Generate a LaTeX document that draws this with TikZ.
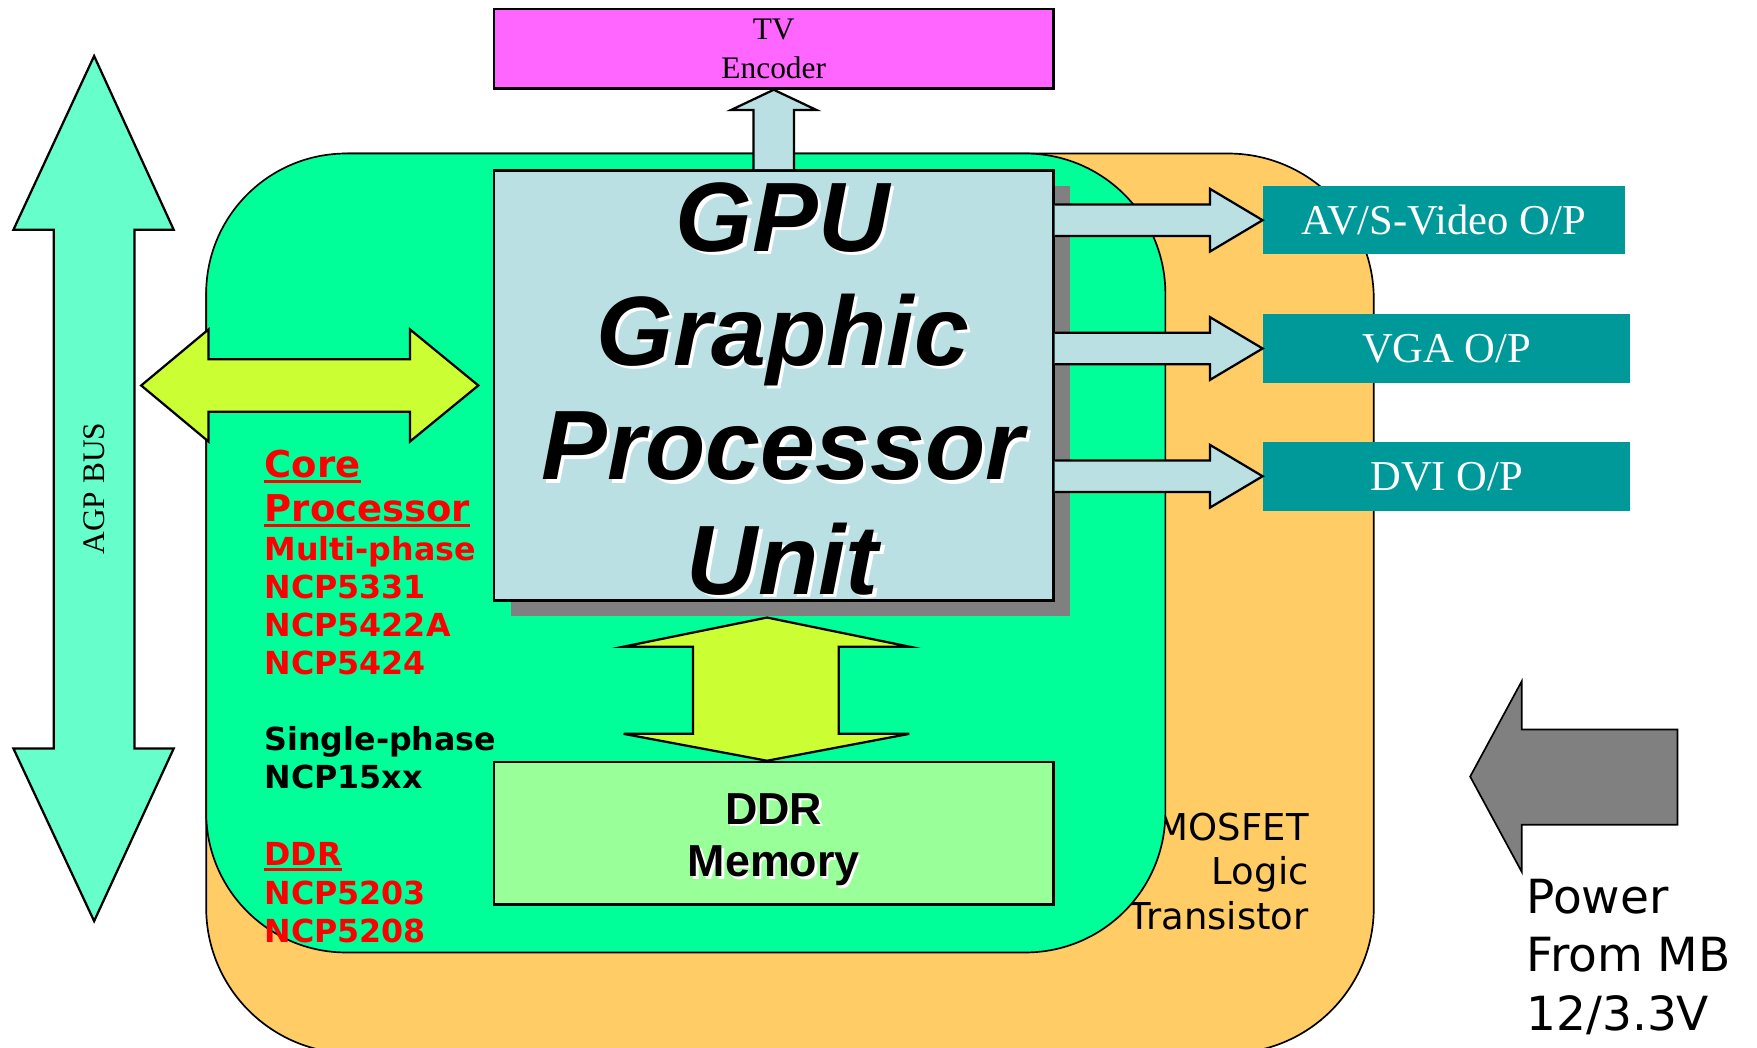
\documentclass[tikz,border=0pt]{standalone}
\usepackage{fontspec}
\setmainfont{Liberation Serif}
\newfontfamily\gpufont{Liberation Sans}
\newfontfamily\verdfont{DejaVu Sans}
\usepackage{xcolor}
\definecolor{boardorange}{HTML}{FFCC66}
\definecolor{coregreen}{HTML}{00FF99}
\definecolor{busgreen}{HTML}{66FFCC}
\definecolor{linkyellow}{HTML}{CCFF33}
\definecolor{gpublue}{HTML}{BBE0E3}
\definecolor{memgreen}{HTML}{99FF99}
\definecolor{tvpink}{HTML}{FF66FF}
\definecolor{outteal}{HTML}{009999}
\definecolor{shadowgray}{HTML}{808080}
\usetikzlibrary{calc,shadows}

\begin{document}
\begin{tikzpicture}[x=1pt, y=-1pt,
  blockarrow/.style={draw, line width=2pt, line join=miter},
  chipbox/.style={draw, line width=2.2pt, inner sep=0pt},
  outbox/.style={fill=outteal, text=white, inner sep=0pt, font=\fontsize{38}{44}\selectfont},
  partno/.style={anchor=base west, inner sep=0pt, font=\verdfont\bfseries\fontsize{28.3}{34}\selectfont}]

  \useasboundingbox (0,0) rectangle (1568,935);

  % Boards
  \draw[fill=boardorange, line width=1.5pt, rounded corners=130pt] (184,137) rectangle (1226,940);
  \node[anchor=north east, align=right, inner sep=0pt, font=\verdfont\fontsize{33}{40}\selectfont] (fet) at (1168,725) {MOSFET\\Logic\\Transistor};
  \draw[fill=coregreen, line width=1.5pt, rounded corners=125pt] (184,137) rectangle (1040,850);

  % AGP bus
  \coordinate (agptop) at (84,50);
  \coordinate (agpbot) at (84,822);
  \draw[blockarrow, fill=busgreen] (agptop) -- ($(agptop)+(71,155)$) -- ($(agptop)+(36,155)$) -- ($(agpbot)+(36,-154)$) -- ($(agpbot)+(71,-154)$) -- (agpbot) -- ($(agpbot)+(-72,-154)$) -- ($(agpbot)+(-36,-154)$) -- ($(agptop)+(-36,155)$) -- ($(agptop)+(-72,155)$) -- cycle;
  \node[rotate=90, font=\fontsize{28}{32}\selectfont] (agp) at ($(agptop)!0.5!(agpbot)$) {AGP BUS};

  % GPU
  \node[chipbox, fill=gpublue, minimum width=499pt, minimum height=384pt,
    drop shadow={shadow xshift=15pt, shadow yshift=-14pt, fill=shadowgray, opacity=1}] (gpu) at (690.5,344) {};
  \node[align=center, text=white, font=\gpufont\bfseries\itshape\fontsize{88}{102}\selectfont] (gputxtshade) at ($(gpu.center)+(11,6)$) {GPU\\Graphic\\Processor\\Unit};
  \node[align=center, font=\gpufont\bfseries\itshape\fontsize{88}{102}\selectfont] (gputxt) at ($(gpu.center)+(8,3)$) {GPU\\Graphic\\Processor\\Unit};

  % AGP link
  \coordinate (linkL) at ($(agptop |- gpu.west)+(42,0)$);
  \coordinate (linkR) at ($(gpu.west)+(-13,0)$);
  \draw[blockarrow, fill=linkyellow] (linkL) -- ($(linkL)+(60,-50)$) -- ($(linkL)+(60,-23.5)$) -- ($(linkR)+(-61,-23.5)$) -- ($(linkR)+(-61,-50)$) -- (linkR) -- ($(linkR)+(-61,50)$) -- ($(linkR)+(-61,23.5)$) -- ($(linkL)+(60,23.5)$) -- ($(linkL)+(60,50)$) -- cycle;

  % TV encoder
  \node[chipbox, fill=tvpink, minimum width=499pt, minimum height=71pt, align=center, font=\fontsize{28}{35}\selectfont] (tv) at (690.5,43.5) {TV\\Encoder};
  \draw[blockarrow, fill=gpublue] ($(gpu.north)+(-18,0)$) -- ($(tv.south)+(-18,18)$) -- ($(tv.south)+(-38,18)$) -- (tv.south) -- ($(tv.south)+(38,18)$) -- ($(tv.south)+(18,18)$) -- ($(gpu.north)+(18,0)$);

  % Outputs
  \node[outbox, minimum width=323pt, minimum height=61pt] (av) at (1288.5,196.5) {AV/S-Video O/P};
  \node[outbox, minimum width=328pt, minimum height=62pt] (vga) at (1291,311) {VGA O/P};
  \node[outbox, minimum width=328pt, minimum height=62pt] (dvi) at (1291,425) {DVI O/P};
  \foreach \out in {av,vga,dvi} {
    \coordinate (\out-from) at (gpu.east |- \out.west);
    \draw[blockarrow, fill=gpublue] ($(\out-from)+(0,-14)$) -- ($(\out.west)+(-47,-14)$) -- ($(\out.west)+(-47,-28)$) -- (\out.west) -- ($(\out.west)+(-47,28)$) -- ($(\out.west)+(-47,14)$) -- ($(\out-from)+(0,14)$);
  }

  % Memory
  \node[chipbox, fill=memgreen, minimum width=499pt, minimum height=127pt] (ddr) at (690.5,743.5) {};
  \node[align=center, text=white, font=\gpufont\bfseries\fontsize{40}{47}\selectfont] (ddrtxtshade) at ($(ddr.center)+(2,8)$) {DDR\\Memory};
  \node[align=center, font=\gpufont\bfseries\fontsize{40}{47}\selectfont] (ddrtxt) at ($(ddr.center)+(0,6)$) {DDR\\Memory};
  \coordinate (memtop) at ($(gpu.south)+(-6,14)$);
  \coordinate (membot) at ($(ddr.north)+(-6,0)$);
  \draw[blockarrow, fill=linkyellow] (memtop) -- ($(memtop)+(127,26)$) -- ($(memtop)+(64,26)$) -- ($(membot)+(64,-24)$) -- ($(membot)+(127,-24)$) -- (membot) -- ($(membot)+(-128,-24)$) -- ($(membot)+(-66,-24)$) -- ($(memtop)+(-66,26)$) -- ($(memtop)+(-128,26)$) -- cycle;

  % Regulators
  \node[partno, red, font=\verdfont\bfseries\fontsize{33}{39}\selectfont] (core) at (236,426) {Core};
  \node[partno, red, font=\verdfont\bfseries\fontsize{33}{39}\selectfont] (proc) at (236,465) {Processor};
  \foreach \y/\name/\txt/\col in {500/multi/Multi-phase/red, 534/n5331/NCP5331/red, 568/n5422/NCP5422A/red, 602/n5424/NCP5424/red, 670/single/Single-phase/black, 704/n15xx/NCP15xx/black, 807/n5203/NCP5203/red, 841/n5208/NCP5208/red}
    \node[partno, text=\col] (\name) at (236,\y) {\txt};
  \node[partno, red] (ddrreg) at (236,772) {DDR};
  \foreach \n in {core,proc,ddrreg}
    \draw[red, line width=2.5pt] ($(\n.base west)+(0,4)$) -- ($(\n.base east)+(0,4)$);

  % Power input
  \coordinate (pwrtip) at (1312,693);
  \draw[fill=shadowgray, line width=1.5pt] (pwrtip) -- ($(pwrtip)+(46,-85)$) -- ($(pwrtip)+(46,-42)$) -- ($(pwrtip)+(185,-42)$) -- ($(pwrtip)+(185,43)$) -- ($(pwrtip)+(46,43)$) -- ($(pwrtip)+(46,85)$) -- cycle;
  \node[anchor=north west, align=left, inner sep=0pt, font=\verdfont\fontsize{42}{52.5}\selectfont] (pwr) at (1362,784) {Power\\From MB\\12/3.3V};
\end{tikzpicture}
\end{document}
